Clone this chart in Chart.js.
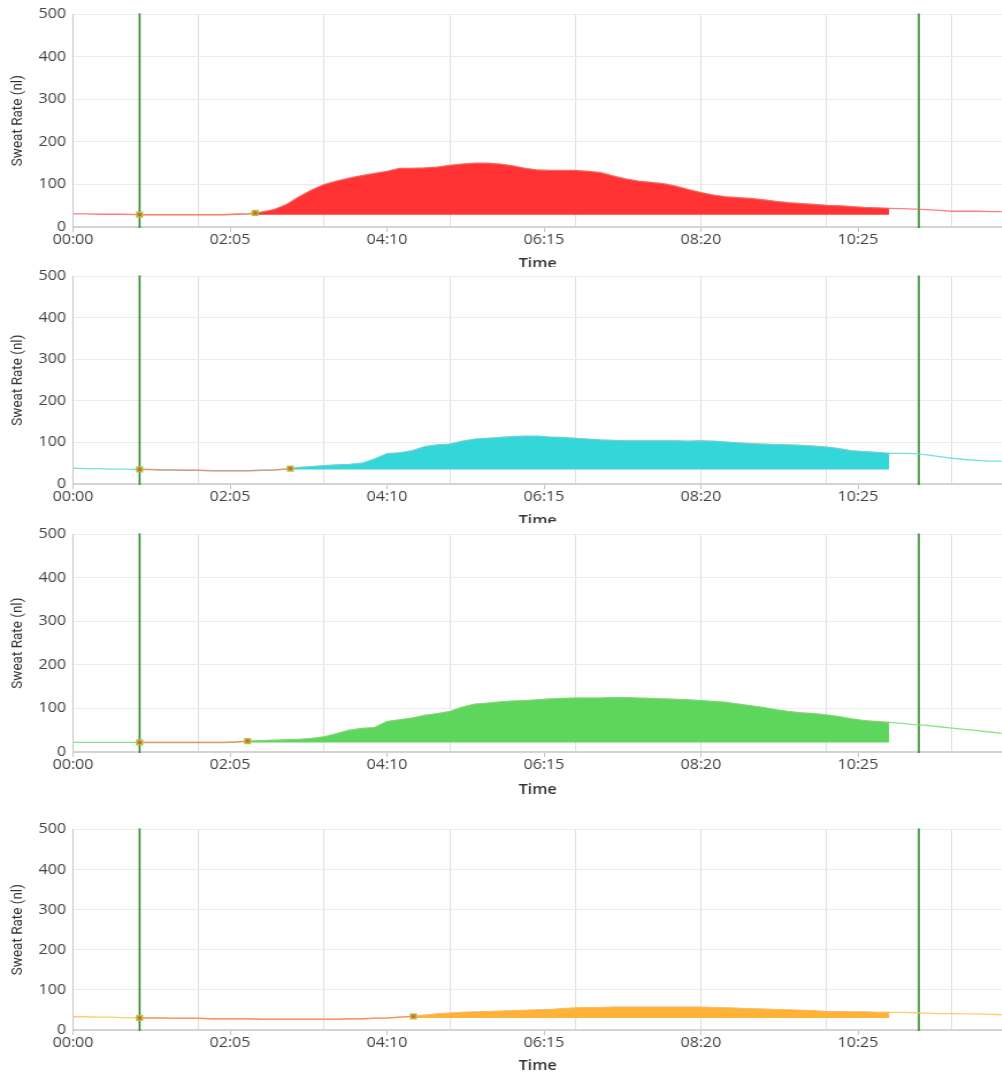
<!DOCTYPE html>
<html>
<head>
<meta charset="utf-8">
<script src="https://cdn.jsdelivr.net/npm/chart.js@4.4.1/dist/chart.umd.min.js"></script>
<style>
  html, body { margin: 0; padding: 0; background: #fff; }
  #page { position: relative; width: 1002px; height: 1074px; overflow: hidden; background: #fff; }
  .clip { position: absolute; left: 0; width: 1002px; overflow: hidden; }
  .inner { position: absolute; left: 0; top: 0; width: 877px; transform: scaleX(1.15); transform-origin: 0 0; }
</style>
</head>
<body>
<div id="page">
  <div class="clip" style="top:0px;height:267px"><div class="inner" style="height:276px"><canvas id="c0"></canvas></div></div>
  <div class="clip" style="top:262px;height:261px"><div class="inner" style="height:271px"><canvas id="c1"></canvas></div></div>
  <div class="clip" style="top:520px;height:295px"><div class="inner" style="height:282px"><canvas id="c2"></canvas></div></div>
  <div class="clip" style="top:815px;height:259px"><div class="inner" style="height:263px"><canvas id="c3"></canvas></div></div>
</div>
<script>
// Sample times in minutes since start
const minutes = [0,10,20,30,40,50,60,70,80,90,100,110,120,130,140,150,160,170,180,190,
  200,210,220,230,240,250,260,270,280,290,300,310,320,330,340,350,360,370,380,390,
  400,410,420,430,440,450,460,470,480,490,500,510,520,530,540,550,560,570,580,590,
  600,610,620,630,640,650,660,670,680,690,700,710,720,730,740];

// Sweat rate per sensor (nl)
const sensorA = [31,31,30,30,30,29,29,29,29,29,29,29,29,30,31,35,41,53,71,87,
  100,108,115,121,126,131,138,138,139,141,145,148,150,150,148,144,138,134,133,133,
  133,131,128,120,113,108,105,102,96,88,81,75,71,69,67,64,60,57,55,53,
  51,50,48,46,45,44,43,42,41,39,37,37,37,36,36];
const sensorB = [38,37,37,36,36,35,35,34,34,33,33,32,32,32,32,33,34,36,40,42,
  44,46,47,50,60,73,75,80,90,94,96,103,108,110,112,114,115,115,113,112,
  110,108,106,105,104,104,104,104,104,103,104,103,101,99,97,96,95,94,93,91,
  89,85,80,78,76,74,74,73,70,66,62,59,57,55,55];
const sensorC = [22,22,22,22,22,22,22,22,22,22,22,22,22,23,25,26,27,28,29,31,
  35,42,50,54,56,70,74,78,84,88,93,103,110,112,115,117,118,120,122,123,
  124,124,124,125,125,124,123,122,121,120,118,116,114,110,106,102,97,93,90,88,
  85,81,76,72,70,68,66,63,61,58,55,52,49,46,43];
const sensorD = [33,33,32,32,31,30,30,30,29,29,29,28,28,28,28,27,27,27,27,27,
  27,27,28,28,29,30,32,34,37,40,42,44,45,46,47,48,49,50,51,53,
  55,56,56,57,57,57,57,57,57,57,57,56,55,54,53,52,51,50,49,48,
  46,46,45,45,44,44,44,43,42,41,41,40,40,39,38];

// Event markers per sensor: [start time, onset time] and their values
const markerTimes = [[53, 145], [53, 173], [53, 139], [53, 271]];
const markerValues = [[29, 33], [35, 37], [22, 25], [30, 34]];
// End of the integrated window (minutes)
const windowEnd = [650, 650, 650, 650];
// Vertical reference rules (minutes)
const ruleTimes = [53, 673.5];

// Axis ticks
const gridMinutes = [100, 200, 300, 400, 500, 600, 700];
const labelMinutes = [0, 125, 250, 375, 500, 625];
const timeLabels = ['00:00', '02:05', '04:10', '06:15', '08:20', '10:25'];

const fillColors = ['#ff3333', '#33d6d9', '#5cd65c', '#ffb233'];
const lineColors = ['rgba(255,95,95,0.8)', 'rgba(90,218,222,0.85)', 'rgba(115,222,115,0.85)', 'rgba(255,192,90,0.85)'];
const series = [sensorA, sensorB, sensorC, sensorD];

// per-panel layout: top padding and x-axis box height (px)
const panelPadTop = [13, 9, 10, 10];
const panelAxisH = [49, 49, 50, 48];

const rulesPlugin = {
  id: 'rules',
  beforeDatasetsDraw(chart) {
    const { ctx, chartArea, scales } = chart;
    ctx.save();
    ctx.strokeStyle = '#2a862a';
    ctx.lineWidth = 1.6;
    ruleTimes.forEach(t => {
      const x = scales.x.getPixelForValue(t);
      ctx.beginPath();
      ctx.moveTo(x, chartArea.top - 1);
      ctx.lineTo(x, chartArea.bottom + 1);
      ctx.stroke();
    });
    ctx.restore();
  }
};

function buildPanel(idx) {
  const values = series[idx];
  const pts = minutes.map((t, i) => ({ x: t, y: values[i] }));
  const [t1, t2] = markerTimes[idx];
  const [v1, v2] = markerValues[idx];
  const end = windowEnd[idx];

  const fillPts = [{ x: t2, y: v2 }].concat(pts.filter(p => p.x > t2 && p.x <= end));
  const segPts = [{ x: t1, y: v1 }].concat(pts.filter(p => p.x > t1 && p.x < t2), [{ x: t2, y: v2 }]);

  new Chart(document.getElementById('c' + idx), {
    type: 'line',
    data: {
      datasets: [
        {
          data: [{ x: t1, y: v1 }, { x: t2, y: v2 }],
          showLine: false,
          pointStyle: 'rect',
          pointRadius: 3.4,
          pointBackgroundColor: 'rgba(232,92,40,0.95)',
          pointBorderColor: 'rgba(168,200,60,0.95)',
          pointBorderWidth: 1.4,
          order: 0
        },
        {
          data: segPts,
          borderColor: 'rgba(242,132,92,0.75)',
          borderWidth: 1.5,
          pointRadius: 0,
          fill: false,
          order: 1
        },
        {
          data: pts,
          borderColor: lineColors[idx],
          borderWidth: 1.3,
          pointRadius: 0,
          fill: false,
          order: 2
        },
        {
          data: fillPts,
          borderColor: 'rgba(205,120,80,0.55)',
          borderWidth: 1,
          backgroundColor: fillColors[idx],
          pointRadius: 0,
          fill: { value: v1 },
          order: 3
        }
      ]
    },
    options: {
      responsive: true,
      maintainAspectRatio: false,
      animation: false,
      events: [],
      layout: { padding: { top: panelPadTop[idx], left: 0, right: 0, bottom: 0 } },
      plugins: { legend: { display: false }, tooltip: { enabled: false } },
      elements: { line: { tension: 0 } },
      scales: {
        x: {
          type: 'linear',
          min: 0,
          max: 740,
          afterBuildTicks(scale) {
            const vals = Array.from(new Set(gridMinutes.concat(labelMinutes))).sort((a, b) => a - b);
            scale.ticks = vals.map(v => ({ value: v }));
          },
          afterFit(scale) { scale.height = panelAxisH[idx]; },
          ticks: {
            autoSkip: false,
            maxRotation: 0,
            padding: 0,
            color: '#444',
            font: { family: 'Open Sans', size: 14 },
            callback(value) {
              const k = labelMinutes.indexOf(value);
              return k >= 0 ? timeLabels[k] : '';
            }
          },
          grid: {
            drawTicks: true,
            tickLength: 5,
            lineWidth: 1,
            color(ctx) {
              const v = ctx.tick ? ctx.tick.value : -1;
              return gridMinutes.includes(v) ? '#dedede' : 'rgba(0,0,0,0)';
            },
            tickColor(ctx) {
              const v = ctx.tick ? ctx.tick.value : -1;
              return labelMinutes.includes(v) ? '#c4c4c4' : 'rgba(0,0,0,0)';
            }
          },
          border: { display: true, color: '#d4d4d4', width: 2 },
          title: {
            display: true,
            text: 'Time',
            color: '#333',
            font: { family: 'Open Sans', size: 14, weight: '600' },
            padding: { top: 0, bottom: 4 }
          }
        },
        y: {
          min: 0,
          max: 500,
          afterFit(scale) { scale.width = 63.5; },
          ticks: {
            stepSize: 100,
            padding: 6,
            color: '#444',
            font: { family: 'Open Sans', size: 14 }
          },
          grid: { color: '#ececec', drawTicks: false },
          border: { display: true, color: '#c6c6c6', width: 1 },
          title: {
            display: true,
            text: 'Sweat Rate (nl)',
            color: '#333',
            font: { family: 'Roboto', size: 13.5 },
            padding: { top: 7.5, bottom: 0 }
          }
        }
      }
    },
    plugins: [rulesPlugin]
  });
}

[0, 1, 2, 3].forEach(buildPanel);
</script>
</body>
</html>
